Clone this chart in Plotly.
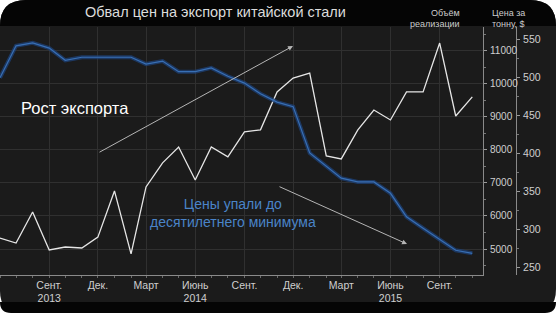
import plotly.graph_objects as go

W, H = 559, 315

months = ["2013-06-01", "2013-07-01", "2013-08-01", "2013-09-01", "2013-10-01", "2013-11-01",
          "2013-12-01", "2014-01-01", "2014-02-01", "2014-03-01", "2014-04-01", "2014-05-01",
          "2014-06-01", "2014-07-01", "2014-08-01", "2014-09-01", "2014-10-01", "2014-11-01",
          "2014-12-01", "2015-01-01", "2015-02-01", "2015-03-01", "2015-04-01", "2015-05-01",
          "2015-06-01", "2015-07-01", "2015-08-01", "2015-09-01", "2015-10-01", "2015-11-01"]

volume = [5330, 5180, 6120, 4970, 5060, 5030, 5360, 6760, 4850, 6880,
          7610, 8090, 7090, 8090, 7790, 8550, 8610, 9760, 10180, 10330,
          7820, 7730, 8610, 9210, 8910, 9760, 9760, 11240, 9030, 9610]

price = [499, 541, 545, 538, 522, 526, 526, 526, 526, 517,
         521, 507, 507, 512, 501, 492, 478, 467, 461, 400,
         382, 367, 362, 362, 347, 316, 301, 286, 272, 268]

tick_dates = ["2013-09-01", "2013-12-01", "2014-03-01", "2014-06-01", "2014-09-01",
              "2014-12-01", "2015-03-01", "2015-06-01", "2015-09-01"]
tick_text = ["Сент.<br>2013", "Дек.", "Март", "Июнь<br>2014", "Сент.",
             "Дек.", "Март", "Июнь<br>2015", "Сент."]

vol_ticks = [5000, 6000, 7000, 8000, 9000, 10000, 11000]
vol_text = ["5000", "6000", "7000", "8000", "9000", "10000", "11000"]
price_ticks = [250, 300, 350, 400, 450, 500, 550]
price_text = ["250", "300", "350", "400", "450", "500", "550"]

FONT = "Liberation Sans"

def px(x):
    return x / W

def py(y):
    return 1 - y / H

plot_l, plot_r, plot_t, plot_b = 0, 483, 27, 275

fig = go.Figure()

# glow under price line
fig.add_trace(go.Scatter(x=months, y=price, yaxis="y2", mode="lines",
                         line=dict(color="rgba(30,66,120,0.75)", width=4),
                         hoverinfo="skip", showlegend=False))
fig.add_trace(go.Scatter(x=months, y=price, yaxis="y2", mode="lines",
                         line=dict(color="#386fb4", width=1.2),
                         name="Цена за тонну, $", showlegend=False))
fig.add_trace(go.Scatter(x=months, y=volume, yaxis="y", mode="lines",
                         line=dict(color="#e6e6e6", width=1.3),
                         name="Объём реализации", showlegend=False))

def rr_path(x0, y0, x1, y1, rtl, rtr, rbr, rbl):
    pts = []
    pts.append(f"M {px(x0 + rtl)},{py(y0)}")
    pts.append(f"L {px(x1 - rtr)},{py(y0)}")
    pts.append(f"Q {px(x1)},{py(y0)} {px(x1)},{py(y0 + rtr)}")
    pts.append(f"L {px(x1)},{py(y1 - rbr)}")
    pts.append(f"Q {px(x1)},{py(y1)} {px(x1 - rbr)},{py(y1)}")
    pts.append(f"L {px(x0 + rbl)},{py(y1)}")
    pts.append(f"Q {px(x0)},{py(y1)} {px(x0)},{py(y1 - rbl)}")
    pts.append(f"L {px(x0)},{py(y0 + rtl)}")
    pts.append(f"Q {px(x0)},{py(y0)} {px(x0 + rtl)},{py(y0)}")
    pts.append("Z")
    return " ".join(pts)

shapes = [
    dict(type="path", xref="paper", yref="paper", layer="below",
         path=rr_path(0, 0, 556, 313, 26, 26, 24, 22),
         fillcolor="#1b1b1b", line=dict(width=0)),
    dict(type="path", xref="paper", yref="paper", layer="below",
         path=rr_path(0, 0, 556, 26, 26, 26, 0, 0),
         fillcolor="#050505", line=dict(width=0)),
    dict(type="path", xref="paper", yref="paper", layer="below",
         path=rr_path(0, 302, 556, 313, 0, 0, 11, 11),
         fillcolor="#050505", line=dict(width=0)),
]

annotations = [
    dict(text="Обвал цен на экспорт китайской стали", x=px(215), y=py(12),
         xref="paper", yref="paper", showarrow=False, xanchor="center", yanchor="middle",
         font=dict(family=FONT, size=14.5, color="#dcdcdc")),
    dict(text="Объём", x=px(462), y=py(6), xref="paper", yref="paper", showarrow=False,
         font=dict(family=FONT, size=9, color="#cccccc")),
    dict(text="реализации", x=px(462), y=py(17), xref="paper", yref="paper", showarrow=False,
         font=dict(family=FONT, size=9, color="#cccccc")),
    dict(text="Цена за", x=px(527), y=py(6), xref="paper", yref="paper", showarrow=False,
         font=dict(family=FONT, size=9, color="#cccccc")),
    dict(text="тонну, $", x=px(527), y=py(17), xref="paper", yref="paper", showarrow=False,
         font=dict(family=FONT, size=9, color="#cccccc")),
    dict(text="Рост экспорта", x=px(19), y=py(108), xref="paper", yref="paper", showarrow=False,
         xanchor="left", yanchor="middle", font=dict(family=FONT, size=16.5, color="#ffffff")),
    dict(text="Цены упали до<br>десятилетнего минимума", x=px(233), y=py(213),
         xref="paper", yref="paper", showarrow=False, xanchor="center", yanchor="middle",
         align="center", font=dict(family=FONT, size=14, color="#4a84c8")),
    dict(text="", x=px(293), y=py(46), xref="paper", yref="paper", showarrow=True,
         ax=-195, ay=107, arrowhead=2, arrowsize=1, arrowwidth=1, arrowcolor="#b5b5b5"),
    dict(text="", x=px(407), y=py(244), xref="paper", yref="paper", showarrow=True,
         ax=-129, ay=-58, arrowhead=2, arrowsize=1, arrowwidth=1, arrowcolor="#b5b5b5"),
]

y_dom = [1 - plot_b / H, 1 - plot_t / H]

fig.update_layout(
    width=W, height=H,
    margin=dict(l=0, r=0, t=0, b=0),
    paper_bgcolor="#ffffff",
    plot_bgcolor="rgba(0,0,0,0)",
    shapes=shapes,
    annotations=annotations,
    showlegend=False,
    xaxis=dict(domain=[px(plot_l), px(plot_r)], type="date",
               range=["2013-06-01", "2015-11-21"],
               tickvals=tick_dates, ticktext=tick_text,
               showgrid=True, gridcolor="#303030", gridwidth=1,
               showline=True, linecolor="#8a8a8a", linewidth=1,
               ticks="", ticklen=0, zeroline=False,
               minor=dict(tick0="2013-06-01", dtick="M1", ticks="outside", ticklen=2,
                          tickcolor="#6a6a6a", showgrid=False),
               tickfont=dict(family=FONT, size=10.5, color="#cfcfcf")),
    yaxis=dict(domain=y_dom, side="right", anchor="x",
               range=[4212, 11727], tickvals=vol_ticks, ticktext=vol_text,
               showgrid=True, gridcolor="#303030", gridwidth=1,
               showline=True, linecolor="#8a8a8a", linewidth=1,
               ticks="outside", ticklen=3, tickcolor="#9a9a9a",
               minor=dict(dtick=500, tick0=0, ticks="outside", ticklen=2, tickcolor="#777777", showgrid=False),
               zeroline=False, ticklabelstandoff=1,
               tickfont=dict(family=FONT, size=10, color="#cfcfcf")),
    yaxis2=dict(domain=y_dom, overlaying="y", side="right", anchor="free", position=px(516),
                range=[239.5, 565.8], tickvals=price_ticks, ticktext=price_text,
                showgrid=False, showline=True, linecolor="#8a8a8a", linewidth=1,
                ticks="outside", ticklen=3, tickcolor="#9a9a9a",
                minor=dict(dtick=25, tick0=0, ticks="outside", ticklen=2, tickcolor="#777777"),
                zeroline=False, ticklabelstandoff=1,
                tickfont=dict(family=FONT, size=10.5, color="#cfcfcf")),
)

fig.write_html("out.html", config={"displayModeBar": False},
               post_script="document.body.style.margin='0px';")
